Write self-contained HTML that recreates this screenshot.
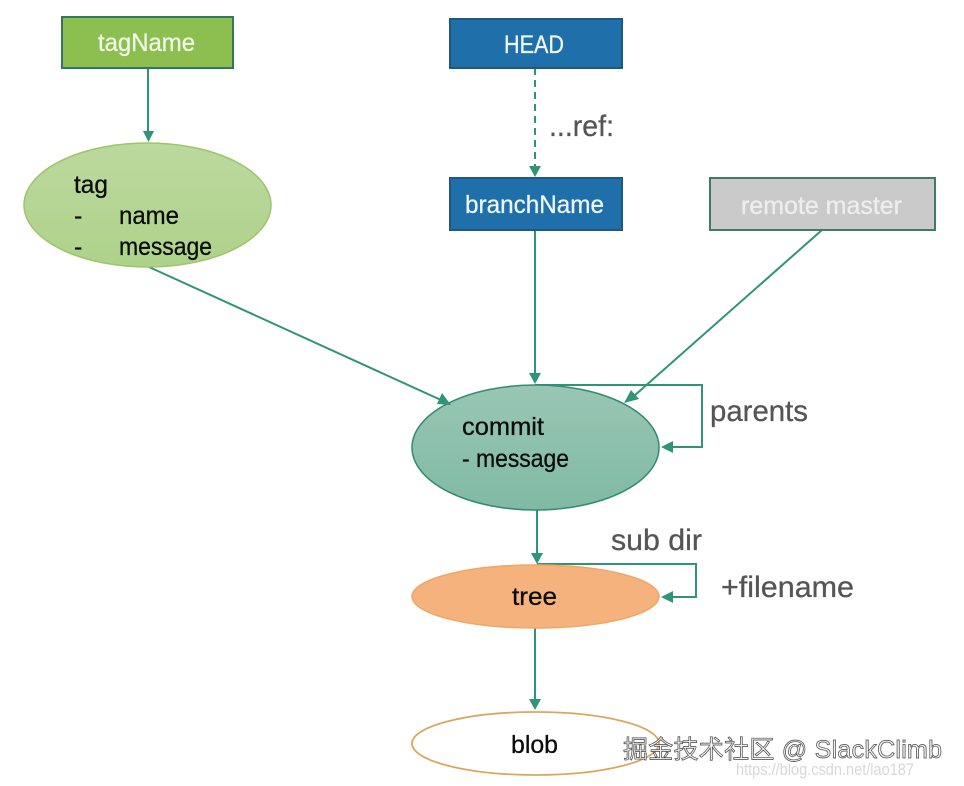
<!DOCTYPE html>
<html>
<head>
<meta charset="utf-8">
<style>
html,body{margin:0;padding:0;background:#fff;}
svg{display:block;}
text{font-family:"Liberation Sans","Noto Sans CJK SC",sans-serif;}
</style>
</head>
<body>
<svg width="964" height="786" viewBox="0 0 964 786" xmlns="http://www.w3.org/2000/svg">
<defs>
<linearGradient id="g1" x1="0" y1="0" x2="0" y2="1"><stop offset="0" stop-color="#bcd99e"/><stop offset="1" stop-color="#aed28a"/></linearGradient>
<linearGradient id="g2" x1="0" y1="0" x2="0" y2="1"><stop offset="0" stop-color="#98c7b4"/><stop offset="1" stop-color="#80baa4"/></linearGradient>
</defs>
<rect width="964" height="786" fill="#fff"/>

<!-- connectors -->
<g stroke="#2f9478" stroke-width="2" fill="none">
<line x1="148" y1="68" x2="148" y2="132"/>
<line x1="535" y1="68" x2="535" y2="168" stroke-dasharray="7 5"/>
<line x1="535" y1="230" x2="535" y2="375"/>
<line x1="149" y1="267" x2="441" y2="400"/>
<line x1="822" y1="230" x2="634" y2="396"/>
<polyline points="535,385 702,385 702,447 669,447"/>
<line x1="537" y1="510" x2="537" y2="555"/>
<polyline points="537,564 696,564 696,597 669,597"/>
<line x1="535" y1="628" x2="535" y2="700"/>
</g>

<!-- shapes -->
<rect x="62" y="17" width="171" height="51" fill="#8cbf50" stroke="#33785c" stroke-width="2"/>
<ellipse cx="147.500" cy="205" rx="123.500" ry="62" fill="url(#g1)" stroke="#9dc56a" stroke-width="1.5"/>
<rect x="450" y="19" width="172" height="49" fill="#1f70aa" stroke="#1d5a80" stroke-width="2"/>
<rect x="450" y="178" width="172" height="52" fill="#1f70aa" stroke="#1d5a80" stroke-width="2"/>
<rect x="710" y="178" width="225" height="52" fill="#cbcaca" stroke="#3f7c68" stroke-width="2"/>
<ellipse cx="535.500" cy="447.500" rx="123.500" ry="62.500" fill="url(#g2)" stroke="#358a72" stroke-width="1.5"/>
<ellipse cx="535.500" cy="596.500" rx="123.500" ry="31.500" fill="#f6b27c" stroke="#eda868" stroke-width="1.5"/>
<ellipse cx="535.500" cy="743.500" rx="123.500" ry="31.500" fill="#fff" stroke="#d9a860" stroke-width="1.8"/>

<!-- arrowheads -->
<g fill="#2f9478">
<polygon points="143,131 154,131 148.500,142"/>
<polygon points="529,166 541,166 535,177"/>
<polygon points="529,373 541,373 535,384"/>
<polygon points="451,405 437,404 442,393"/>
<polygon points="624,403 631,390 639,399"/>
<polygon points="661,447 673,441 673,453"/>
<polygon points="531,553 543,553 537,564"/>
<polygon points="661,597 673,591 673,603"/>
<polygon points="529,699 541,699 535,710"/>
</g>

<!-- node labels -->
<g font-size="25">
<text x="98" y="51" fill="#f1f7e6" stroke="#f1f7e6" stroke-width="0.3" textLength="97" lengthAdjust="spacingAndGlyphs">tagName</text>
<text x="504" y="53" fill="#eef6fb" stroke="#eef6fb" stroke-width="0.3" textLength="60" lengthAdjust="spacingAndGlyphs">HEAD</text>
<text x="465" y="213" fill="#eef6fb" stroke="#eef6fb" stroke-width="0.3" textLength="139" lengthAdjust="spacingAndGlyphs">branchName</text>
<text x="741" y="214" fill="#eeeeee" stroke="#eeeeee" stroke-width="0.3" textLength="161" lengthAdjust="spacingAndGlyphs">remote master</text>
<g fill="#0c0c0c" stroke="#0c0c0c" stroke-width="0.3">
<text x="74" y="193" textLength="34" lengthAdjust="spacingAndGlyphs">tag</text>
<text x="74" y="224">-</text>
<text x="119" y="224" textLength="60" lengthAdjust="spacingAndGlyphs">name</text>
<text x="74" y="255">-</text>
<text x="119" y="255" textLength="93" lengthAdjust="spacingAndGlyphs">message</text>
<text x="462" y="435" textLength="82" lengthAdjust="spacingAndGlyphs">commit</text>
<text x="462" y="467" textLength="107" lengthAdjust="spacingAndGlyphs">- message</text>
<text x="512" y="605" textLength="45" lengthAdjust="spacingAndGlyphs">tree</text>
<text x="511" y="753" textLength="47" lengthAdjust="spacingAndGlyphs">blob</text>
</g>
</g>

<!-- edge labels -->
<g font-size="30" fill="#555" stroke="#555" stroke-width="0.3">
<text x="549" y="136" textLength="65" lengthAdjust="spacingAndGlyphs">...ref:</text>
<text x="710" y="421" textLength="98" lengthAdjust="spacingAndGlyphs">parents</text>
<text x="611" y="550" textLength="91" lengthAdjust="spacingAndGlyphs">sub dir</text>
<text x="721" y="597" textLength="133" lengthAdjust="spacingAndGlyphs">+filename</text>
</g>

<!-- watermarks -->
<text x="736" y="775" font-size="17" fill="#d8d8d8" textLength="178" lengthAdjust="spacingAndGlyphs">https://blog.csdn.net/lao187</text>
<g font-size="25" fill="#f4f4f4" stroke="#444" stroke-width="0.7">
<text x="623" y="758" textLength="319" lengthAdjust="spacing">掘金技术社区 @ SlackClimb</text>
</g>
</svg>
</body>
</html>
